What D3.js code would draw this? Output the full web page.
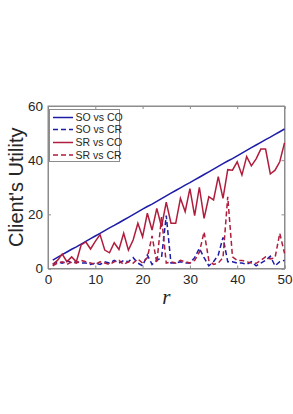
<!DOCTYPE html>
<html><head><meta charset="utf-8">
<script src="https://cdn.jsdelivr.net/npm/d3@7/dist/d3.min.js"></script>
<style>body{margin:0;background:#fff}svg{display:block}</style>
</head><body>
<script>
const rValues = d3.range(1, 51);
const soVsCo = [3.1,4.1,5.1,6.1,7.1,8.0,9.0,10.0,11.0,12.0,13.0,14.0,15.0,15.9,16.9,17.9,18.9,19.9,20.9,21.9,22.9,23.8,24.8,25.8,26.8,27.8,28.8,29.8,30.8,31.7,32.7,33.7,34.7,35.7,36.7,37.7,38.7,39.7,40.6,41.6,42.6,43.6,44.6,45.6,46.6,47.6,48.5,49.5,50.5,51.5];
const soVsCr = [1.5,2.5,2,3,2,2.5,2,2,1.5,2,1.5,2.5,2,3,2,3,2.5,4,2,1,5,1.5,3,4,19.5,2,2,2.5,2,2,4,7.5,4,1,2.5,5,11.5,2.5,2.5,2,2,1.5,2.5,1,2,3,4.5,1,2.5,3];
const srVsCo = [1.5,3,5.3,2.5,4.3,2.5,8.7,9.8,7.2,10,12.5,6.8,5.8,9.5,7,13,6.8,10.5,16.7,11.7,20.4,14.2,22.2,15.4,24.5,16.7,16.7,25.9,21,29.5,19.5,30,18.5,26.5,25.3,33.9,25.9,36.5,36.3,39.4,34.5,41.3,37.9,40.5,44.1,44.1,34.9,36.3,39.4,46.4];
const srVsCr = [1,2,2.5,1.5,2.5,2,3,2.5,2,1.5,2.5,2,1.5,2.5,3,1.5,2.5,2,3.5,2,4,12,2,19,2,2.5,2,3,2.5,2,3,6,13.5,3,1.5,2,4,26.5,4.3,3,3,2.5,2,1.9,3,4.3,3.5,4,13,5.6];
const xTicks = [0,10,20,30,40,50];
const yTicks = [0,20,40,60];
const legendLabels = ["SO vs CO","SO vs CR","SR vs CO","SR vs CR"];

const W=293,H=414;
const m={l:48,r:8.5,t:106,b:145.5};
const svg=d3.select("body").append("svg").attr("width",W).attr("height",H);
const x=d3.scaleLinear().domain([0,50]).range([m.l,W-m.r]);
const y=d3.scaleLinear().domain([0,60]).range([H-m.b,m.t]);
const blue="#1c1ca8", red="#b01c3c", axisCol="#8c8c8c", txt="#262626";
const font="'Liberation Sans', Arial, Helvetica, sans-serif";

// box
svg.append("rect").attr("x",x(0)).attr("y",y(60)).attr("width",x(50)-x(0)).attr("height",y(0)-y(60))
  .attr("fill","none").attr("stroke",axisCol).attr("stroke-width",1);

const tl=3;
const gx=svg.append("g").attr("transform",`translate(0,${y(0)})`)
  .call(d3.axisBottom(x).tickValues(xTicks).tickSize(-tl).tickPadding(6));
const gxt=svg.append("g").attr("transform",`translate(0,${y(60)})`)
  .call(d3.axisTop(x).tickValues(xTicks).tickSize(-tl).tickFormat(""));
const gy=svg.append("g").attr("transform",`translate(${x(0)},0)`)
  .call(d3.axisLeft(y).tickValues(yTicks).tickSize(-tl).tickPadding(5));
const gyr=svg.append("g").attr("transform",`translate(${x(50)},0)`)
  .call(d3.axisRight(y).tickValues(yTicks).tickSize(-tl).tickFormat(""));
[gx,gxt,gy,gyr].forEach(g=>{
  g.select(".domain").attr("stroke",axisCol);
  g.selectAll(".tick line").attr("stroke",axisCol);
  g.selectAll("text").attr("fill",txt).style("font-family",font).style("font-size","13.5px");
});

const line=d3.line().x((d,i)=>x(rValues[i])).y(d=>y(d));
const series=[
  {data:soVsCo,color:blue,dash:null},
  {data:soVsCr,color:blue,dash:"5,3"},
  {data:srVsCo,color:red,dash:null},
  {data:srVsCr,color:red,dash:"5,3"}
];
series.forEach(s=>{
  svg.append("path").datum(s.data).attr("d",line).attr("fill","none")
    .attr("stroke",s.color).attr("stroke-width",1.5)
    .attr("stroke-dasharray",s.dash);
});

// legend
const lg=svg.append("g");
lg.append("rect").attr("x",49.5).attr("y",109.5).attr("width",70).attr("height",52)
  .attr("fill","#fff").attr("stroke",axisCol).attr("stroke-width",1);
const ly=[117.5,129.5,142.5,155];
legendLabels.forEach((lab,i)=>{
  const s=series[i];
  lg.append("line").attr("x1",53).attr("x2",73).attr("y1",ly[i]).attr("y2",ly[i])
    .attr("stroke",s.color).attr("stroke-width",1.5).attr("stroke-dasharray",s.dash);
  lg.append("text").attr("x",75.5).attr("y",ly[i]).attr("dy","0.35em")
    .attr("fill",txt).style("font-family",font).style("font-size","10.5px").text(lab);
});

svg.append("text").attr("transform",`translate(23,${(y(0)+y(60))/2}) rotate(-90)`)
  .attr("text-anchor","middle").attr("fill",txt)
  .style("font-family",font).style("font-size","20px").text("Client's Utility");
svg.append("text").attr("x",(x(0)+x(50))/2).attr("y",304).attr("text-anchor","middle")
  .attr("fill",txt).style("font-family","'Liberation Serif','Times New Roman',serif")
  .style("font-style","italic").style("font-size","21px").text("r");
</script>
</body></html>
